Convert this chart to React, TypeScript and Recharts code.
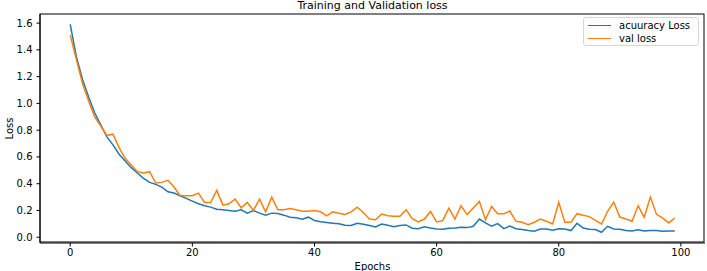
import React from 'react';
import { LineChart, Line, XAxis, YAxis } from 'recharts';

const epochs: number[] = Array.from({ length: 100 }, (_, i) => i);

const trainLoss: number[] = [
  1.59, 1.35, 1.18, 1.05, 0.93, 0.84, 0.75, 0.69, 0.62, 0.57,
  0.52, 0.48, 0.44, 0.41, 0.395, 0.375, 0.34, 0.33, 0.31, 0.29,
  0.27, 0.25, 0.235, 0.225, 0.21, 0.205, 0.2, 0.195, 0.205, 0.18,
  0.2, 0.18, 0.165, 0.18, 0.178, 0.165, 0.15, 0.145, 0.135, 0.15,
  0.125, 0.115, 0.11, 0.105, 0.1, 0.09, 0.088, 0.104, 0.097, 0.087,
  0.077, 0.099, 0.089, 0.079, 0.087, 0.092, 0.067, 0.064, 0.079, 0.069,
  0.062, 0.059, 0.067, 0.069, 0.074, 0.072, 0.082, 0.136, 0.107, 0.082,
  0.102, 0.064, 0.084, 0.064, 0.057, 0.05, 0.045, 0.062, 0.062, 0.052,
  0.064, 0.062, 0.05, 0.104, 0.069, 0.059, 0.057, 0.037, 0.082, 0.062,
  0.059, 0.05, 0.047, 0.055, 0.047, 0.05, 0.05, 0.045, 0.047, 0.047,
];

const valLoss: number[] = [
  1.51, 1.33, 1.15, 1.02, 0.9, 0.83, 0.76, 0.77, 0.67, 0.59,
  0.54, 0.49, 0.48, 0.49, 0.405, 0.41, 0.425, 0.375, 0.31, 0.31,
  0.31, 0.33, 0.26, 0.26, 0.35, 0.24, 0.25, 0.285, 0.22, 0.26,
  0.2, 0.285, 0.19, 0.3, 0.205, 0.205, 0.215, 0.205, 0.195, 0.195,
  0.2, 0.19, 0.16, 0.19, 0.18, 0.17, 0.19, 0.225, 0.185, 0.136,
  0.131, 0.173, 0.16, 0.156, 0.156, 0.206, 0.139, 0.114, 0.136, 0.193,
  0.114, 0.124, 0.218, 0.136, 0.235, 0.169, 0.218, 0.268, 0.131, 0.23,
  0.176, 0.176, 0.196, 0.119, 0.112, 0.094, 0.112, 0.136, 0.119, 0.099,
  0.26, 0.112, 0.112, 0.176, 0.164, 0.154, 0.126, 0.099, 0.193, 0.263,
  0.151, 0.136, 0.119, 0.235, 0.149, 0.3, 0.171, 0.144, 0.107, 0.144,
];

const xTicks = [0, 20, 40, 60, 80, 100];
const yTicks = [0, 0.2, 0.4, 0.6, 0.8, 1.0, 1.2, 1.4, 1.6];

const series = [
  { key: 'train', name: 'acuuracy Loss', color: '#1f77b4' },
  { key: 'val', name: 'val loss', color: '#ff7f0e' },
];

const data = epochs.map((e, i) => ({ epoch: e, train: trainLoss[i], val: valLoss[i] }));

const FONT = '"DejaVu Sans", sans-serif';
const tickStyle = { fontSize: 10, fill: '#000', fontFamily: FONT };

export default function App() {
  return (
    <div style={{ position: 'absolute', left: 0, top: 0, width: 707, height: 271, background: '#fff', overflow: 'hidden' }}>
      <div
        style={{
          position: 'absolute',
          left: 40,
          width: 665,
          top: 0,
          textAlign: 'center',
          fontFamily: FONT,
          fontSize: 11,
          lineHeight: '11px',
          color: '#000',
          zIndex: 1,
        }}
      >
        Training and Validation loss
      </div>
      <LineChart width={707} height={271} data={data} margin={{ top: 14, right: 2, bottom: 0, left: 0 }}>
        <XAxis
          dataKey="epoch"
          type="number"
          domain={[-4.95, 103.95]}
          ticks={xTicks}
          allowDataOverflow
          height={28}
          tickSize={3.5}
          tickMargin={2}
          tick={tickStyle}
          stroke="#000"
          label={{ value: 'Epochs', position: 'insideBottom', offset: 1, style: { fontSize: 10, fill: '#000', fontFamily: FONT } }}
        />
        <YAxis
          type="number"
          domain={[-0.043, 1.668]}
          ticks={yTicks}
          allowDataOverflow
          width={40}
          tickSize={3.5}
          tickMargin={4}
          tick={tickStyle}
          tickFormatter={(v: number) => v.toFixed(1)}
          stroke="#000"
          label={{ value: 'Loss', angle: -90, position: 'insideLeft', offset: 9, style: { fontSize: 10, fill: '#000', fontFamily: FONT, textAnchor: 'middle' } }}
        />
        {series.map((s) => (
          <Line
            key={s.key}
            name={s.name}
            type="linear"
            dataKey={s.key}
            stroke={s.color}
            strokeWidth={1.5}
            dot={false}
            isAnimationActive={false}
          />
        ))}
      </LineChart>
      {/* axes frame (matplotlib spines) */}
      <div
        style={{
          position: 'absolute',
          left: 40,
          top: 14,
          width: 665,
          height: 229,
          border: '1px solid #000',
          boxSizing: 'border-box',
          pointerEvents: 'none',
          transform: 'translate(-0.5px, -0.5px)',
        }}
      />
      {/* legend */}
      <div
        style={{
          position: 'absolute',
          left: 583,
          top: 17,
          width: 114,
          height: 27,
          border: '1px solid #d6d6d6',
          borderRadius: 3,
          background: 'rgba(255,255,255,0.8)',
          fontFamily: FONT,
          fontSize: 10,
          color: '#000',
        }}
      >
        {series.map((s, i) => (
          <div key={s.key} style={{ display: 'flex', alignItems: 'center', height: 13, marginTop: i === 0 ? 1 : 0 }}>
            <div style={{ marginLeft: 4, width: 23, height: 1.5, background: s.color }} />
            <span style={{ marginLeft: 8, lineHeight: '13px' }}>{s.name}</span>
          </div>
        ))}
      </div>
    </div>
  );
}
